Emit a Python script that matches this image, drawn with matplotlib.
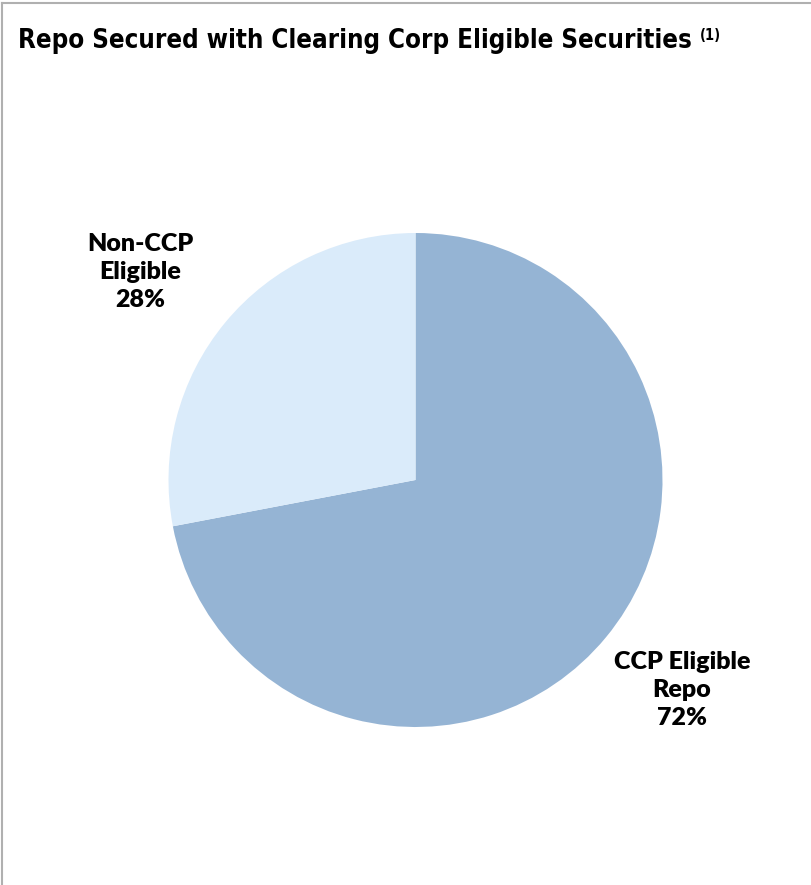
import matplotlib
matplotlib.use("Agg")
import matplotlib.pyplot as plt
from matplotlib.lines import Line2D

# data
labels = ["CCP Eligible\nRepo", "Non-CCP\nEligible"]
shares = [72, 28]
colors = ["#95B4D4", "#DAEBFA"]
title = "Repo Secured with Clearing Corp Eligible Securities"

W, H = 811, 885
fig = plt.figure(figsize=(W / 100, H / 100), dpi=100)
ax = fig.add_axes([0, 0, 1, 1])

cx, cy, r = 415.5, H - 480, 247
ax.pie(shares, colors=colors, startangle=90, counterclock=False,
       center=(cx, cy), radius=r, frame=True,
       wedgeprops={"linewidth": 0})
ax.set_xlim(0, W)
ax.set_ylim(0, H)
ax.set_aspect("equal")
ax.axis("off")

# slice labels
lab_font = dict(family=["Lato", "DejaVu Sans"], fontweight="heavy", fontsize=18,
                ha="center", va="center", linespacing=1.33)
ax.text(682, H - 690, f"{labels[0]}\n{shares[0]}%", **lab_font)
ax.text(140, H - 272, f"{labels[1]}\n{shares[1]}%", **lab_font)

# title with footnote marker
t = fig.text(18 / W, 1 - 41 / H, title, family=["DejaVu Sans"], fontstretch="condensed",
             fontweight="bold", fontsize=18.5, va="center", ha="left")
fig.canvas.draw()
bb = t.get_window_extent()
fig.text((bb.x1 + 8) / W, 1 - 36 / H, "(1)", family=["DejaVu Sans"], fontstretch="condensed",
         fontweight="bold", fontsize=10.5, va="center", ha="left")

# frame lines (left and top)
fig.add_artist(Line2D([1.5 / W, 1.5 / W], [0, 1 - 2.5 / H], color="#B0B0B0", lw=1.5))
fig.add_artist(Line2D([1.5 / W, 1], [1 - 2.5 / H, 1 - 2.5 / H], color="#B0B0B0", lw=1.5))

fig.savefig("out.png", dpi=100)
